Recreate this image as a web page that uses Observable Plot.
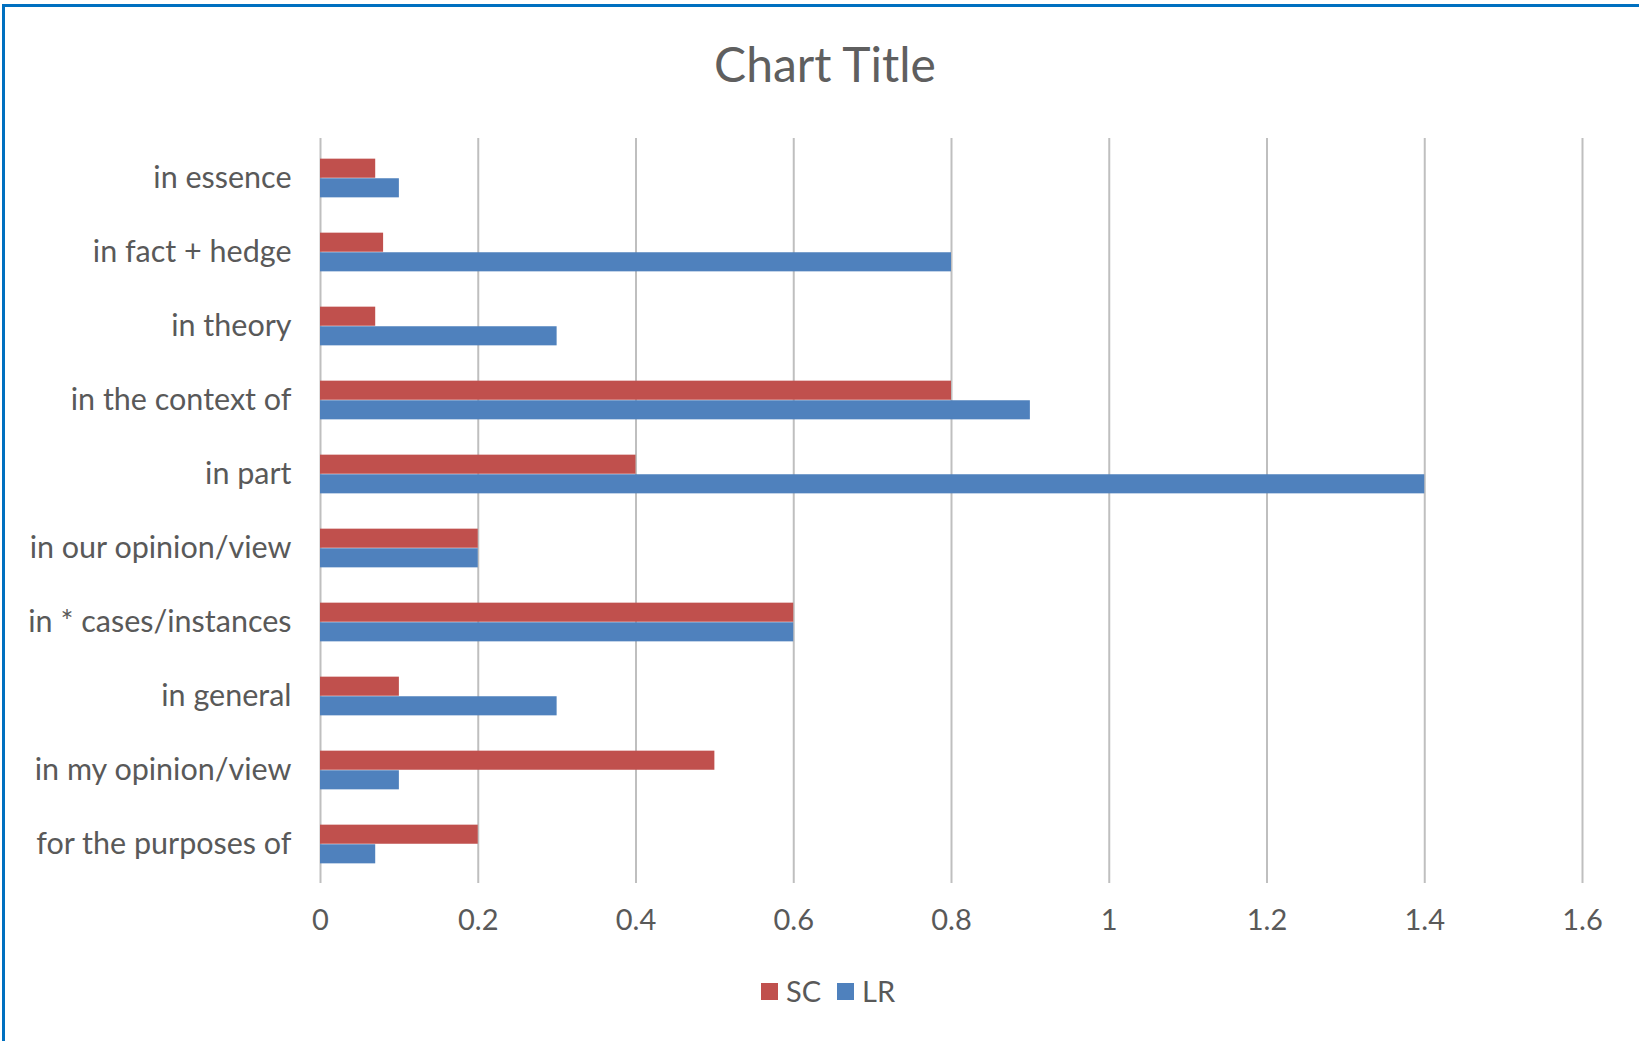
<!DOCTYPE html>
<html>
<head>
<meta charset="utf-8">
<script src="https://cdn.jsdelivr.net/npm/d3@7"></script>
<script src="https://cdn.jsdelivr.net/npm/@observablehq/plot@0.6"></script>
<style>
  html, body { margin: 0; padding: 0; background: #fff; }
  body { width: 1639px; height: 1041px; position: relative; overflow: hidden; font-family: Lato, "Open Sans", sans-serif; color: #595959; }
  #frame { position: absolute; left: 2px; top: 4px; width: 1650px; height: 1050px; border-top: 3px solid #0070C0; border-left: 3px solid #0070C0; box-sizing: border-box; }
  #title { position: absolute; top: 40px; left: 0; width: 1650px; text-align: center; font-size: 48px; line-height: 48px; color: #5f5f5f; }
  #chart { position: absolute; top: 110px; left: 0; }
  #legend { position: absolute; top: 973px; left: 0; width: 1656px; display: flex; justify-content: center; align-items: center; font-size: 29px; line-height: 36px; color: #595959; }
  .item { display: flex; align-items: center; margin: 0 8px; }
  .sw { width: 17px; height: 17px; margin-right: 8px; }
</style>
</head>
<body>
<div id="frame"></div>
<div id="title">Chart Title</div>
<div id="chart"></div>
<div id="legend"></div>
<script>
const categories = ["in essence", "in fact + hedge", "in theory", "in the context of", "in part", "in our opinion/view", "in * cases/instances", "in general", "in my opinion/view", "for the purposes of"];
const seriesNames = ["SC", "LR"];
const scValues = [0.07, 0.08, 0.07, 0.8, 0.4, 0.2, 0.6, 0.1, 0.5, 0.2];
const lrValues = [0.1, 0.8, 0.3, 0.9, 1.4, 0.2, 0.6, 0.3, 0.1, 0.07];
const xTicks = [0, 0.2, 0.4, 0.6, 0.8, 1.0, 1.2, 1.4, 1.6];
const xTickLabels = ["0", "0.2", "0.4", "0.6", "0.8", "1", "1.2", "1.4", "1.6"];

const colors = {SC: "#C0504D", LR: "#4F81BD"};

const W = 1639, H = 850, mt = 28, mb = 77, ml = 320, mr = 57;
const step = (H - mt - mb) / categories.length;
const barH = step * 0.263;
const outer = (step - 2 * barH) / 2;

const scData = categories.map((c, i) => ({cat: c, v: scValues[i]}));
const lrData = categories.map((c, i) => ({cat: c, v: lrValues[i]}));

const fmtX = d => { const k = xTicks.findIndex(t => Math.abs(t - d) < 1e-9); return k >= 0 ? xTickLabels[k] : ""; };

const chart = Plot.plot({
  width: W, height: H,
  marginLeft: ml, marginRight: mr, marginTop: mt, marginBottom: mb,
  style: {fontFamily: "Lato, 'Open Sans', sans-serif", fontSize: "29px", color: "#595959", background: "transparent", overflow: "visible"},
  x: {domain: [0, 1.6], ticks: xTicks, tickFormat: fmtX, tickSize: 0, tickPadding: 26, label: null},
  y: {domain: categories, padding: 0, tickSize: 0, tickPadding: 29, label: null},
  marks: [
    Plot.ruleX(xTicks, {stroke: "#BFBFBF", strokeWidth: 2}),
    Plot.barX(scData, {x: "v", y: "cat", fill: colors.SC, insetTop: outer, insetBottom: step - outer - barH}),
    Plot.barX(lrData, {x: "v", y: "cat", fill: colors.LR, insetTop: outer + barH, insetBottom: outer})
  ]
});
document.getElementById("chart").appendChild(chart);

// enlarge the category labels slightly (y axis)
d3.select(chart).selectAll("g[aria-label^='y-axis'] text").attr("font-size", 30.5).style("font-size", "30.5px");

const legend = document.getElementById("legend");
seriesNames.forEach(s => {
  const it = document.createElement("div");
  it.className = "item";
  const sw = document.createElement("div");
  sw.className = "sw";
  sw.style.background = colors[s];
  const tx = document.createElement("span");
  tx.textContent = s;
  it.appendChild(sw); it.appendChild(tx);
  legend.appendChild(it);
});
</script>
</body>
</html>
